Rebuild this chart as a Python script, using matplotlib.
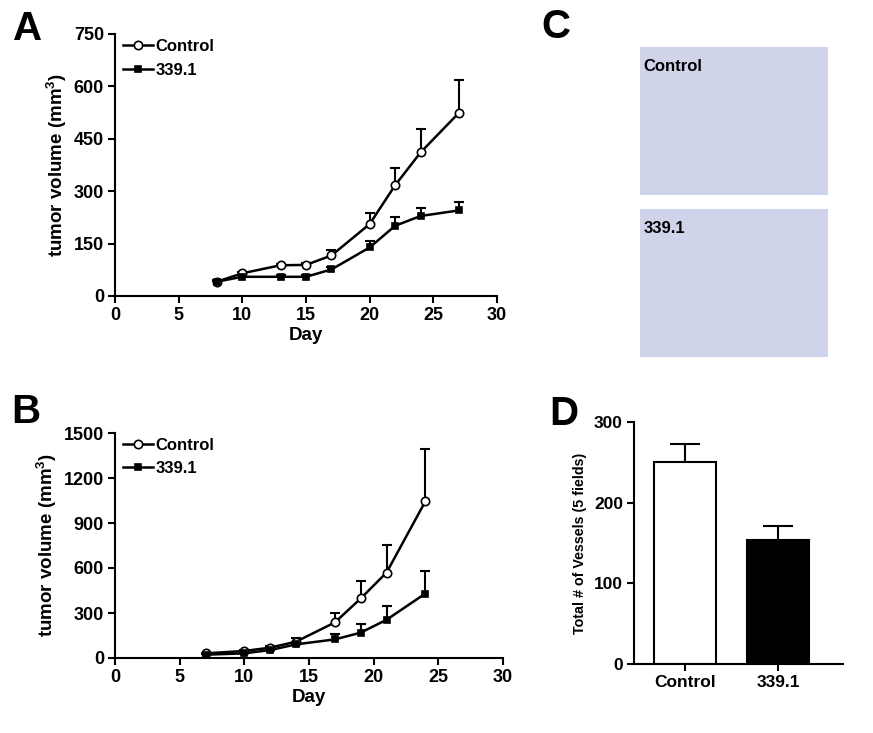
import matplotlib
matplotlib.use("Agg")
import numpy as np
import matplotlib.pyplot as plt

plt.rcParams["font.family"] = ["Liberation Sans", "DejaVu Sans"]
plt.rcParams["font.weight"] = "bold"
plt.rcParams["mathtext.fontset"] = "custom"
plt.rcParams["mathtext.rm"] = "Liberation Sans:bold"
plt.rcParams["mathtext.bf"] = "Liberation Sans:bold"
plt.rcParams["mathtext.default"] = "bf"

# ── Data ───────────────────────────────────────────────────────────────────
# Panel A
A_DAYS = [8, 10, 13, 15, 17, 20, 22, 24, 27]
A_CTRL = [41, 65, 88, 89, 116, 206, 317, 411, 524]
A_CTRL_ERR = [4, 5, 5, 5, 16, 33, 49, 67, 94]
A_TRT = [41, 55, 55, 55, 76, 139, 201, 229, 245]
A_TRT_ERR = [3, 4, 4, 4, 6, 19, 24, 23, 24]

# Panel B
B_DAYS = [7, 10, 12, 14, 17, 19, 21, 24]
B_CTRL = [31, 47, 69, 109, 237, 397, 570, 1045]
B_CTRL_ERR = [5, 8, 12, 22, 63, 116, 184, 346]
B_TRT = [22, 31, 53, 91, 124, 169, 255, 430]
B_TRT_ERR = [4, 6, 9, 14, 36, 59, 91, 149]

# Panel D
D_GROUPS = ["Control", "339.1"]
D_VALUES = [250, 154]
D_ERR = [23, 17]
D_COLORS = ["white", "black"]

SERIES_LABELS = ["Control", "339.1"]

W, H = 873, 733
fig = plt.figure(figsize=(W / 100, H / 100), dpi=100)


def px_axes(left, top, right, bottom):
    return fig.add_axes([left / W, 1 - bottom / H, (right - left) / W, (bottom - top) / H])


def style_axis(ax, size=13):
    for s in ("top", "right"):
        ax.spines[s].set_visible(False)
    for s in ("left", "bottom"):
        ax.spines[s].set_linewidth(1.5)
    ax.tick_params(direction="out", length=5, width=1.5, labelsize=size, pad=3)
    for lab in ax.get_xticklabels() + ax.get_yticklabels():
        lab.set_fontweight("bold")


def growth_panel(ax, days, ctrl, ctrl_err, trt, trt_err, yticks, ylim):
    for vals, errs, marker, face, lab in (
        (ctrl, ctrl_err, "o", "white", SERIES_LABELS[0]),
        (trt, trt_err, "s", "black", SERIES_LABELS[1]),
    ):
        vals = np.asarray(vals)
        tops = vals + np.asarray(errs)
        ax.vlines(days, vals, tops, color="black", linewidth=1.5, zorder=2)
        ax.plot(days, tops, linestyle="none", marker="_", markersize=7,
                markeredgewidth=1.5, color="black", zorder=2)
        ax.plot(days, vals, color="black", linewidth=1.8, marker=marker,
                markersize=6 if marker == "o" else 5, markerfacecolor=face,
                markeredgecolor="black", markeredgewidth=1.2, label=lab, zorder=3,
                clip_on=False)
    ax.set_xlim(0, 30)
    ax.set_xticks([0, 5, 10, 15, 20, 25, 30])
    ax.set_ylim(*ylim)
    ax.set_yticks(yticks)
    ax.set_xlabel("Day", fontsize=13.5, fontweight="bold", labelpad=2)
    ax.set_ylabel("tumor volume (mm$^3$)", fontsize=13.5, fontweight="bold", labelpad=3)
    style_axis(ax)
    ax.legend(loc="upper left", frameon=False, fontsize=12, handlelength=1.8,
              handletextpad=0.15, labelspacing=0.5, borderaxespad=0.0,
              borderpad=0.0, bbox_to_anchor=(0.02, 0.98))


# ── Panel A ────────────────────────────────────────────────────────────────
axA = px_axes(115, 34, 497, 296)
growth_panel(axA, A_DAYS, A_CTRL, A_CTRL_ERR, A_TRT, A_TRT_ERR,
             [0, 150, 300, 450, 600, 750], (0, 750))

# ── Panel B ────────────────────────────────────────────────────────────────
axB = px_axes(115, 433, 503, 658)
growth_panel(axB, B_DAYS, B_CTRL, B_CTRL_ERR, B_TRT, B_TRT_ERR,
             [0, 300, 600, 900, 1200, 1500], (0, 1500))

# ── Panel C (micrograph placeholders) ──────────────────────────────────────
for (top, bottom), lab in zip(((47, 195), (209, 357)), SERIES_LABELS):
    axc = px_axes(640, top, 828, bottom)
    axc.set_facecolor("#d0d4ea")
    axc.set_xticks([])
    axc.set_yticks([])
    for s in axc.spines.values():
        s.set_visible(False)
    axc.text(0.02, 0.87, lab, transform=axc.transAxes, fontsize=12,
             fontweight="bold", va="center", ha="left")

# ── Panel D ────────────────────────────────────────────────────────────────
axD = px_axes(634, 422, 843, 664)
xpos = np.arange(len(D_GROUPS))
axD.bar(xpos, D_VALUES, width=0.67, color=D_COLORS, edgecolor="black",
        linewidth=1.5, zorder=2)
for x, v, e in zip(xpos, D_VALUES, D_ERR):
    axD.vlines(x, v, v + e, color="black", linewidth=1.5, zorder=1)
    axD.plot([x], [v + e], marker="_", markersize=22, markeredgewidth=1.5,
             color="black", zorder=1)
axD.set_xlim(-0.55, 1.7)
axD.set_ylim(0, 300)
axD.set_yticks([0, 100, 200, 300])
axD.set_xticks(xpos)
axD.set_xticklabels(D_GROUPS)
axD.set_ylabel("Total # of Vessels (5 fields)", fontsize=10.3, fontweight="bold",
               labelpad=5)
style_axis(axD, size=12.5)

# ── Panel letters ──────────────────────────────────────────────────────────
for lab, x, y in (("A", 13, 40), ("B", 11, 423), ("C", 541, 38), ("D", 549, 425)):
    fig.text(x / W, 1 - y / H, lab, fontsize=29, fontweight="bold",
             ha="left", va="baseline")

fig.savefig("out.png", dpi=100)
